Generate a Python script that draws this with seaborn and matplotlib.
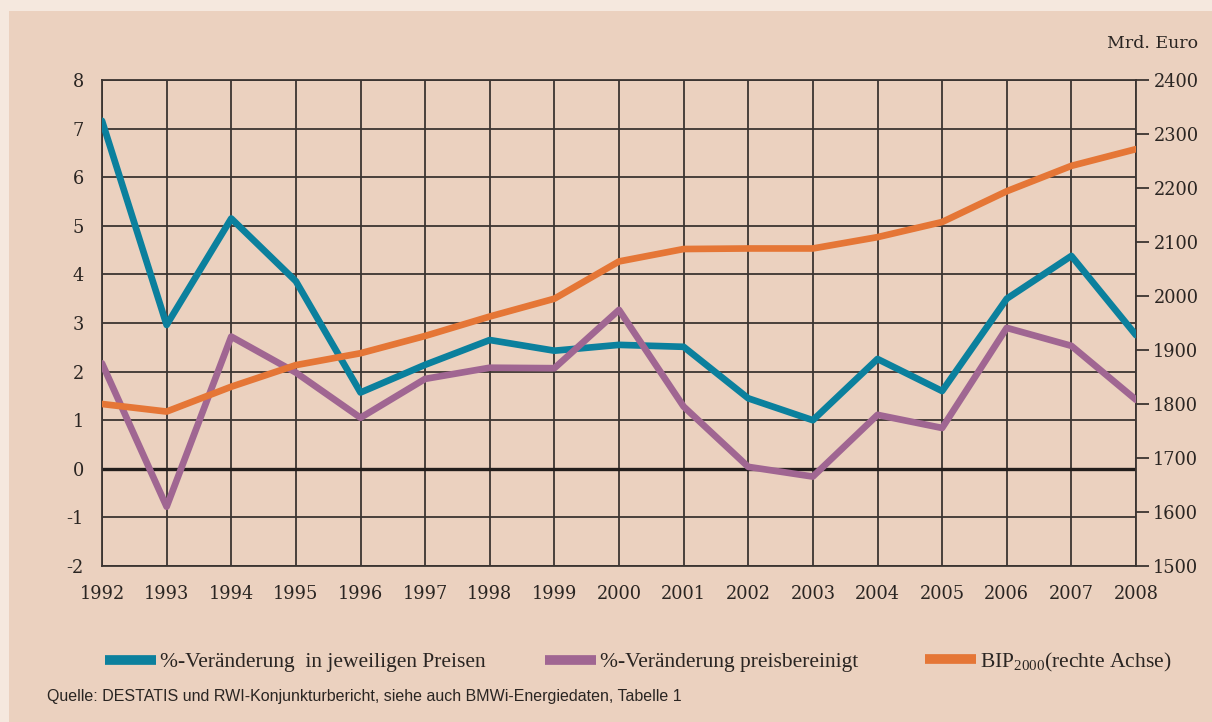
import numpy as np
import pandas as pd
import matplotlib
matplotlib.use('Agg')
import matplotlib.pyplot as plt
import seaborn as sns
from matplotlib.patches import Rectangle
from matplotlib.lines import Line2D

# Daten
years = list(range(1992, 2009))
nominal = [7.16, 2.96, 5.15, 3.86, 1.57, 2.14, 2.65, 2.43, 2.55, 2.51, 1.45, 1.0, 2.26, 1.6, 3.5, 4.38, 2.75]
real = [2.17, -0.78, 2.72, 1.98, 1.05, 1.85, 2.08, 2.07, 3.27, 1.28, 0.04, -0.16, 1.11, 0.84, 2.9, 2.53, 1.42]
bip = [1800, 1786, 1832, 1872, 1894, 1926, 1962, 1995, 2064, 2087, 2088, 2088, 2109, 2137, 2194, 2241, 2272]

left_ticks = list(range(-2, 9))
right_ticks = list(range(1500, 2401, 100))

label_nom = '%-Veränderung  in jeweiligen Preisen'
label_real = '%-Veränderung preisbereinigt'
label_bip = 'BIP$_{2000}$(rechte Achse)'

df = pd.DataFrame({'Jahr': years, 'nominal': nominal, 'real': real, 'bip': bip})

sns.set_style('white')
plt.rcParams['font.family'] = ['DejaVu Serif']
plt.rcParams['mathtext.fontset'] = 'custom'
plt.rcParams['mathtext.rm'] = 'Liberation Serif'

TEAL = '#0b809d'
PURPLE = '#a06692'
ORANGE = '#e57636'
PANEL = '#ebd1bf'
OUTER = '#f5e8de'
GRID = '#3b3431'
TEXT = '#2a2522'

fig = plt.figure(figsize=(12.12, 7.22), dpi=100, facecolor=OUTER)
fig.patches.append(Rectangle((9 / 1212, 0), 1, 1 - 11 / 722, transform=fig.transFigure,
                             facecolor=PANEL, edgecolor='none', zorder=-10))

ax = fig.add_axes([102 / 1212, 1 - 566 / 722, (1136 - 102) / 1212, (566 - 80) / 722])
ax.set_facecolor('none')

sns.lineplot(data=df, x='Jahr', y='nominal', ax=ax, color=TEAL, linewidth=4.8, zorder=3)
sns.lineplot(data=df, x='Jahr', y='real', ax=ax, color=PURPLE, linewidth=4.8, zorder=3)

ax.set_xlim(1992, 2008)
ax.set_ylim(-2, 8)
ax.set_xticks(years)
ax.set_yticks(left_ticks)
ax.set_yticklabels([str(t) for t in left_ticks])
ax.set_xlabel('')
ax.set_ylabel('')
ax.grid(True, color=GRID, linewidth=1.3)
ax.axhline(0, color='#231e1c', linewidth=2.4, zorder=2)
ax.tick_params(axis='both', length=0, labelsize=12.8, colors=TEXT)
ax.tick_params(axis='x', pad=14)
ax.tick_params(axis='y', pad=13)
for s in ax.spines.values():
    s.set_color(GRID)
    s.set_linewidth(1.3)

ax2 = ax.twinx()
sns.lineplot(data=df, x='Jahr', y='bip', ax=ax2, color=ORANGE, linewidth=4.8, zorder=3)
ax2.set_ylim(1500, 2400)
ax2.set_yticks(right_ticks)
ax2.set_ylabel('')
ax2.tick_params(axis='y', direction='out', length=9.5, width=1.3, color=GRID,
                labelsize=12.8, colors=TEXT, pad=3)
for s in ax2.spines.values():
    s.set_visible(False)

fig.text(1198 / 1212, 1 - 44 / 722, 'Mrd. Euro', ha='right', va='center', fontsize=12.5, color=TEXT)

# Legende: drei Einträge, einzeln platziert
entries = [(TEAL, label_nom, 105), (PURPLE, label_real, 545), (ORANGE, label_bip, 925)]
for color, label, x0 in entries:
    h = Line2D([], [], color=color, linewidth=7, solid_capstyle='butt')
    fig.legend([h], [label], frameon=False, loc='center left',
               bbox_to_anchor=(x0 / 1212, 1 - 662 / 722), borderpad=0, borderaxespad=0,
               prop={'family': ['Liberation Serif'], 'size': 15.5},
               handlelength=2.37, handletextpad=0.2, labelcolor=TEXT)

fig.text(47 / 1212, 1 - 697 / 722,
         'Quelle: DESTATIS und RWI-Konjunkturbericht, siehe auch BMWi-Energiedaten, Tabelle 1',
         ha='left', va='center', fontsize=11.5, color=TEXT,
         family=['Liberation Sans', 'DejaVu Sans'])

fig.savefig('out.png', dpi=100, facecolor=OUTER)
